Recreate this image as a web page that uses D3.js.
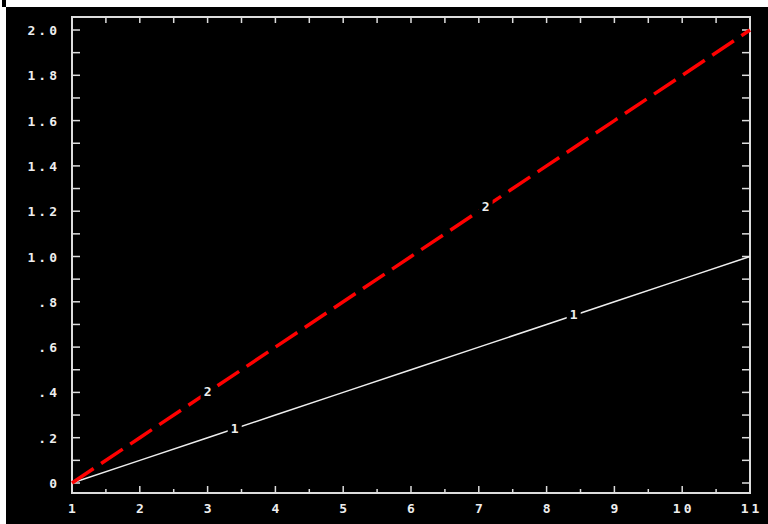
<!DOCTYPE html>
<html>
<head>
<meta charset="utf-8">
<script src="https://cdn.jsdelivr.net/npm/d3@7"></script>
<style>
  body { margin: 0; background: #fff; }
  svg { display: block; }
  .tick-label { font-family: "DejaVu Sans Mono", monospace; font-weight: bold; font-size: 13px; fill: #eee; letter-spacing: 3px; }
</style>
</head>
<body>
<svg width="768" height="524"></svg>
<script>
  const xValues = [1, 2, 3, 4, 5, 6, 7, 8, 9, 10, 11];
  const series1 = [0, 0.1, 0.2, 0.3, 0.4, 0.5, 0.6, 0.7, 0.8, 0.9, 1.0];
  const series2 = [0, 0.2, 0.4, 0.6, 0.8, 1.0, 1.2, 1.4, 1.6, 1.8, 2.0];
  const yTicks = [0, 0.2, 0.4, 0.6, 0.8, 1.0, 1.2, 1.4, 1.6, 1.8, 2.0];
  const yTickLabels = ['0', '.2', '.4', '.6', '.8', '1.0', '1.2', '1.4', '1.6', '1.8', '2.0'];
  const lineLabels1 = [{x: 3.4, text: '1'}, {x: 8.4, text: '1'}];
  const lineLabels2 = [{x: 3.0, text: '2'}, {x: 7.1, text: '2'}];

  const svg = d3.select('svg');

  // black plotting page
  svg.append('rect').attr('x', 6).attr('y', 7).attr('width', 762).attr('height', 517).attr('fill', '#000');
  svg.append('rect').attr('x', 2).attr('y', 0).attr('width', 4).attr('height', 7).attr('fill', '#000');

  const frameL = 72, frameR = 750, frameT = 17, frameB = 493;
  const x = d3.scaleLinear().domain([1, 11]).range([frameL, frameR]);
  const y = d3.scaleLinear().domain([0, 2]).range([483, 30]);

  const frameColor = '#ddd';
  const g = svg.append('g');

  // ticks
  const yMinor = d3.range(0, 21).map(i => i / 10);
  const xHalf = d3.range(0, 21).map(i => 1 + i / 2);

  g.selectAll('.yl').data(yMinor).enter().append('line')
    .attr('x1', frameL).attr('x2', frameL + 8)
    .attr('y1', d => y(d)).attr('y2', d => y(d))
    .attr('stroke', frameColor).attr('stroke-width', 1.5);
  g.selectAll('.yr').data(yMinor).enter().append('line')
    .attr('x1', frameR).attr('x2', frameR - 8)
    .attr('y1', d => y(d)).attr('y2', d => y(d))
    .attr('stroke', frameColor).attr('stroke-width', 1.5);
  g.selectAll('.xt').data(xHalf).enter().append('line')
    .attr('x1', d => x(d)).attr('x2', d => x(d))
    .attr('y1', frameT).attr('y2', frameT + 6)
    .attr('stroke', frameColor).attr('stroke-width', 1.5);
  g.selectAll('.xb').data(xHalf).enter().append('line')
    .attr('x1', d => x(d)).attr('x2', d => x(d))
    .attr('y1', frameB).attr('y2', (d, i) => frameB - (i % 2 === 0 ? 7 : 4))
    .attr('stroke', frameColor).attr('stroke-width', 1.5);

  // frame
  g.append('rect')
    .attr('x', frameL).attr('y', frameT)
    .attr('width', frameR - frameL).attr('height', frameB - frameT)
    .attr('fill', 'none').attr('stroke', frameColor).attr('stroke-width', 2);

  // tick labels
  g.selectAll('.ylab').data(yTicks).enter().append('text')
    .attr('class', 'tick-label')
    .attr('x', 60).attr('y', d => y(d) + 5)
    .attr('text-anchor', 'end')
    .text((d, i) => yTickLabels[i]);
  g.selectAll('.xlab').data(xValues).enter().append('text')
    .attr('class', 'tick-label')
    .attr('x', d => x(d) + 1.5).attr('y', 513)
    .attr('text-anchor', 'middle')
    .text(d => d);

  const line = d3.line().x((d, i) => x(xValues[i])).y(d => y(d));

  g.append('path').datum(series1)
    .attr('d', line).attr('fill', 'none')
    .attr('stroke', '#eee').attr('stroke-width', 1.5);
  g.append('path').datum(series2)
    .attr('d', line).attr('fill', 'none')
    .attr('stroke', '#f00').attr('stroke-width', 3.5)
    .attr('stroke-dasharray', '26,9');

  function addLabels(labels, slope) {
    labels.forEach(l => {
      const px = x(l.x), py = y((l.x - 1) * slope);
      g.append('rect').attr('x', px - 7).attr('y', py - 7).attr('width', 14).attr('height', 14).attr('fill', '#000');
      g.append('text').attr('class', 'tick-label')
        .attr('x', px).attr('y', py + 4)
        .attr('text-anchor', 'middle')
        .style('letter-spacing', '0px')
        .text(l.text);
    });
  }
  addLabels(lineLabels1, (series1[10] - series1[0]) / 10);
  addLabels(lineLabels2, (series2[10] - series2[0]) / 10);
</script>
</body>
</html>
